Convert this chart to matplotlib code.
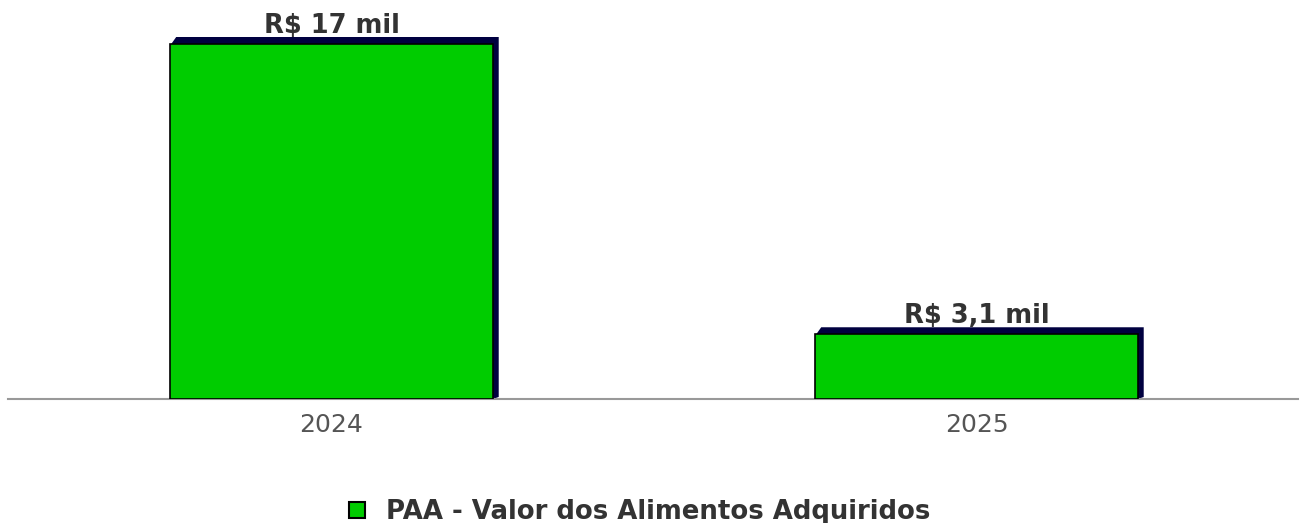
import matplotlib
matplotlib.use("Agg")
import matplotlib.pyplot as plt
import matplotlib.transforms as mtransforms
from matplotlib.patches import Polygon
from matplotlib.lines import Line2D

categories = ["2024", "2025"]
values = [17.0, 3.1]
value_labels = ["R$ 17 mil", "R$ 3,1 mil"]
series_name = "PAA - Valor dos Alimentos Adquiridos"

W, H = 1303, 523
fig = plt.figure(figsize=(W / 100, H / 100), dpi=100)
ax = fig.add_axes([8 / W, (H - 399) / H, 1290 / W, 399 / H])

green = "#00CC00"
shadow = "#000040"
x = list(range(len(categories)))
width = 0.5

ax.set_xlim(-0.5015, 1.4985)
ax.set_ylim(0, 17 * 399 / 355)

bars = ax.bar(x, values, width=width, color=green, edgecolor="#000000",
              linewidth=1.2, zorder=3)

# 3D-like shadow (offset up/right in pixels)
dx, dy = 6, 7
to_disp = ax.transData.transform
to_data = ax.transData.inverted().transform
for xi, v in zip(x, values):
    x0, x1 = xi - width / 2, xi + width / 2
    (px0, pb), = to_disp([(x0, 0)])
    (px1, pt), = to_disp([(x1, v)])
    pts_disp = [(px0 + 1, pt), (px0 + dx, pt + dy), (px1 + dx, pt + dy),
                (px1 + dx, pb + 2), (px1, pb), (px1, pt)]
    pts = to_data(pts_disp)
    ax.add_patch(Polygon(pts, closed=True, facecolor=shadow, edgecolor="none",
                         zorder=2, clip_on=False))

label_tr = mtransforms.offset_copy(ax.transData, fig=fig, x=0, y=11, units="dots")
for xi, v, lab in zip(x, values, value_labels):
    ax.text(xi, v, lab, ha="center", va="baseline", fontsize=18.5, fontweight="bold",
            color="#333333", transform=label_tr, zorder=4)

for s in ["top", "right", "left"]:
    ax.spines[s].set_visible(False)
ax.spines["bottom"].set_color("#999999")
ax.spines["bottom"].set_linewidth(1.5)
ax.set_yticks([])
ax.set_xticks(x)
ax.set_xticklabels(categories, fontsize=18, color="#555555")
ax.tick_params(axis="x", length=0, pad=10)

handle = Line2D([], [], marker="s", linestyle="none", markersize=11,
                markerfacecolor=green, markeredgecolor="#000000", markeredgewidth=1.5)
fig.legend([handle], [series_name], loc="center", bbox_to_anchor=(637.5 / W, 1 - 512 / H),
           frameon=False, prop={"weight": "bold", "size": 18.7}, labelcolor="#333333",
           handletextpad=0.62, handlelength=1.0, borderpad=0.0)

fig.savefig("out.png", dpi=100)
